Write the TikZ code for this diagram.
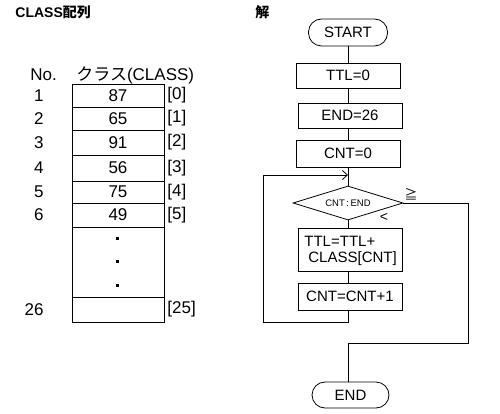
\documentclass[tikz,border=0pt]{standalone}
\usepackage{fontspec}
\setmainfont{Liberation Sans}
\newfontfamily\jp{Noto Sans CJK JP}
\usetikzlibrary{shapes.geometric,arrows.meta}
\begin{document}
\begin{tikzpicture}[x=1pt,y=-1pt,line width=0.8pt,
  cell/.style={draw,minimum width=92pt,inner sep=0pt,font=\fontsize{17}{19}\selectfont},
  lbl/.style={inner sep=0pt,font=\fontsize{17}{19}\selectfont},
  proc/.style={draw,minimum width=104pt,inner sep=0pt,font=\fontsize{15}{17}\selectfont},
  term/.style={draw,rounded corners=13pt,inner sep=0pt,font=\fontsize{15}{17}\selectfont},
  dec/.style={draw,diamond,aspect=3.2,minimum width=110pt,minimum height=34pt,inner sep=0pt,font=\fontsize{9.5}{11}\selectfont},
  flow/.style={-{Straight Barb[length=5pt,width=9pt,line width=0.8pt]}},
  dot/.style={fill,minimum size=3pt,inner sep=0pt}]
\useasboundingbox (0,0) rectangle (500,414);
% headings
\node[anchor=west,inner sep=0pt,font=\fontsize{14}{16}\selectfont\bfseries] (h1) at (15,12) {CLASS{\jp 配列}};
\node[anchor=west,inner sep=0pt,font=\fontsize{14}{16}\selectfont\bfseries] (h2) at (255,12) {\jp 解};
% table header
\node[lbl,anchor=west] (no) at (30,75) {No.};
\node[lbl,anchor=west] (cls) at (76,75) {{\jp\fontsize{17}{19}\selectfont クラス}(CLASS)};
% cells
\node[cell,minimum height=23pt] (r1) at (118,95.5) {87};
\node[cell,minimum height=23pt] (r2) at (118,118.5) {65};
\node[cell,minimum height=25pt] (r3) at (118,142.5) {91};
\node[cell,minimum height=26pt] (r4) at (118,168) {56};
\node[cell,minimum height=22pt] (r5) at (118,192) {75};
\node[cell,minimum height=24pt] (r6) at (118,215) {49};
\node[cell,minimum height=70pt] (rd) at (118,262) {};
\node[cell,minimum height=25pt] (r26) at (118,309.5) {};
\node[dot] (d1) at (117.5,238) {};
\node[dot] (d2) at (117.5,261.5) {};
\node[dot] (d3) at (117.5,285) {};
% row numbers
\node[lbl,anchor=east] (n1) at (44,95.5) {1};
\node[lbl,anchor=east] (n2) at (44,118.5) {2};
\node[lbl,anchor=east] (n3) at (44,142.5) {3};
\node[lbl,anchor=east] (n4) at (44,168) {4};
\node[lbl,anchor=east] (n5) at (44,192) {5};
\node[lbl,anchor=east] (n6) at (44,215) {6};
\node[lbl,anchor=east] (n26) at (44,309.5) {26};
% indices
\node[lbl,anchor=west] (i0) at (167,95.5) {[0]};
\node[lbl,anchor=west] (i1) at (167,118.5) {[1]};
\node[lbl,anchor=west] (i2) at (167,142.5) {[2]};
\node[lbl,anchor=west] (i3) at (167,168) {[3]};
\node[lbl,anchor=west] (i4) at (167,192) {[4]};
\node[lbl,anchor=west] (i5) at (167,215) {[5]};
\node[lbl,anchor=west] (i25) at (167,309.5) {[25]};
% flowchart
\node[term,minimum width=79pt,minimum height=27pt] (start) at (348,32.5) {START};
\node[proc,minimum height=25pt] (ttl0) at (348,75.5) {TTL=0};
\node[proc,minimum height=25pt] (end26) at (350,115.5) {END=26};
\node[proc,minimum height=27pt] (cnt0) at (348,153.5) {CNT=0};
\node[dec] (dia) at (348,203) {CNT\,:\,END};
\node[proc,minimum height=43pt] (body) at (350,249.5) {};
\node[anchor=west,inner sep=0pt,font=\fontsize{15}{17}\selectfont] (bt1) at (304,241) {TTL=TTL+};
\node[anchor=west,inner sep=0pt,font=\fontsize{15}{17}\selectfont] (bt2) at (308,259) {CLASS[CNT]};
\node[proc,minimum height=27pt] (inc) at (350,296.5) {CNT=CNT+1};
\node[term,minimum width=77pt,minimum height=26pt] (endn) at (350.5,395) {END};
\node[inner sep=0pt,font=\jp\fontsize{13}{15}\selectfont] (ge) at (411,194) {≧};
\node[inner sep=0pt,font=\fontsize{14}{16}\selectfont] (lt) at (384,217) {<};
% connectors
\coordinate (la) at (348,175);
\coordinate (lb) at (263,175);
\coordinate (lc) at (263,322);
\coordinate (ld) at (348,322);
\coordinate (ea) at (468,203);
\coordinate (eb) at (468,343);
\coordinate (ec) at (348,343);
\draw (start.south) -- (ttl0.north);
\draw (ttl0.south) -- (ttl0.south |- end26.north);
\draw (ttl0.south |- end26.south) -- (cnt0.north);
\draw (cnt0.south) -- (dia.north);
\draw (dia.south) -- (dia.south |- body.north);
\draw (dia.south |- body.south) -- (dia.south |- inc.north);
\draw (dia.south |- inc.south) -- (ld) -- (lc) -- (lb);
\draw[flow] (lb) -- (la);
\draw (dia.east) -- (ea) -- (eb) -- (ec) -- (ec |- endn.north);
\end{tikzpicture}
\end{document}
